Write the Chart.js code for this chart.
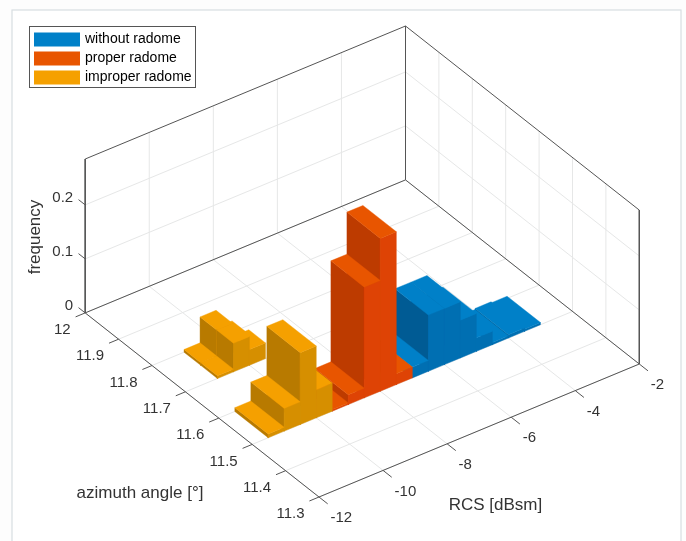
<!DOCTYPE html>
<html>
<head>
<meta charset="utf-8">
<style>
  html, body { margin: 0; padding: 0; background: #fdfdfd; }
  canvas { display: block; }
</style>
<script src="https://cdn.jsdelivr.net/npm/chart.js@4"></script>
</head>
<body>
<canvas id="myChart" width="686" height="541"></canvas>
<script>
// Data
var rcsBins = [-11.5, -11, -10.5, -10, -9.5, -9, -8.5, -8, -7.5, -7, -6.5, -6, -5.5, -5, -4.5, -4, -3.5];
var binWidth = 0.5;
var withoutRadome = [0, 0, 0, 0, 0, 0, 0, 0, 0, 0.02, 0.104, 0.104, 0.07, 0.025, 0.004, 0.006, 0.004];
var properRadome = [0, 0, 0, 0, 0.003, 0.018, 0.205, 0.283, 0.02, 0, 0, 0, 0, 0, 0, 0, 0];
var improperRow1 = [0.007, 0.042, 0.133, 0.052, 0, 0, 0, 0, 0, 0, 0, 0, 0, 0, 0, 0, 0];
var improperRow2 = [0, 0.005, 0.053, 0.021, 0, 0, 0, 0, 0, 0, 0, 0, 0, 0, 0, 0, 0];
var improperRow3 = [0, 0.005, 0.053, 0.029, 0, 0, 0, 0, 0, 0, 0, 0, 0, 0, 0, 0, 0];

var rcsTicks = [-12, -10, -8, -6, -4, -2];
var azTicks = [11.3, 11.4, 11.5, 11.6, 11.7, 11.8, 11.9, 12];
var zTicks = [0, 0.1, 0.2];
var rcsMin = -12, rcsMax = -2, azMin = 11.3, azMax = 12, zMax = 0.285;

var blue = { top: '#0080c8', front: '#006fb2', side: '#005b94' };
var red = { top: '#e85500', front: '#de4305', side: '#bd3b00' };
var orange = { top: '#f5a000', front: '#d68f00', side: '#b87a00' };

// 3D view: data coordinates -> picture coordinates (fixed oblique view)
function project(rcs, az, z) {
  var r = rcs - rcsMin, a = (az - azMin) / 0.1;
  return { x: 319 + 32.03 * r - 33.4 * a, y: 497 - 13.3 * r - 26.3 * a - 540 * z };
}

var datasets = [];

function addPath(pts, color, width) {
  datasets.push({ data: pts, showLine: true, pointRadius: 0, borderColor: color, borderWidth: width, fill: false, order: -datasets.length });
}

function addFace(pts, color) {
  datasets.push({ data: pts.concat([pts[0]]), showLine: true, pointRadius: 0, borderColor: color, borderWidth: 0.4, backgroundColor: color, fill: 'shape', order: -datasets.length });
}

// grid lines on floor and walls
var gridColor = '#e6e7e7';
rcsTicks.forEach(function(t) {
  addPath([project(t, azMin, 0), project(t, azMax, 0), project(t, azMax, zMax)], gridColor, 1);
});
azTicks.forEach(function(t) {
  addPath([project(rcsMin, t, 0), project(rcsMax, t, 0), project(rcsMax, t, zMax)], gridColor, 1);
});
zTicks.slice(1).forEach(function(t) {
  addPath([project(rcsMin, azMax, t), project(rcsMax, azMax, t), project(rcsMax, azMin, t)], gridColor, 1);
});

// box edges and axes
var axisColor = '#555555';
addPath([project(rcsMin, azMax, zMax), project(rcsMin, azMax, 0), project(rcsMax, azMax, 0), project(rcsMax, azMax, zMax), project(rcsMin, azMax, zMax)], axisColor, 1);
addPath([project(rcsMax, azMax, zMax), project(rcsMax, azMin, zMax), project(rcsMax, azMin, 0), project(rcsMax, azMax, 0)], axisColor, 1);
addPath([project(rcsMin, azMax, 0), project(rcsMin, azMin, 0), project(rcsMax, azMin, 0)], axisColor, 1);

// tick marks
rcsTicks.forEach(function(t) {
  addPath([project(t, azMin, 0), project(t, azMin - 0.026, 0)], axisColor, 1);
});
azTicks.forEach(function(t) {
  addPath([project(rcsMin, t, 0), project(rcsMin - 0.3, t, 0)], axisColor, 1);
});
zTicks.forEach(function(t) {
  addPath([project(rcsMin, azMax, t), project(rcsMin, azMax + 0.02, t)], axisColor, 1);
});

// bars, back to front
function addRow(values, az0, az1, colors) {
  return values.map(function(v, i) {
    return { v: v, r0: rcsBins[i], r1: rcsBins[i] + binWidth, az0: az0, az1: az1, colors: colors };
  }).filter(function(b) { return b.v > 0; });
}

var bars = [].concat(
  addRow(withoutRadome, 11.5, 11.6, blue),
  addRow(properRadome, 11.5, 11.6, red),
  addRow(improperRow1, 11.5, 11.6, orange),
  addRow(improperRow2, 11.75, 11.8, orange),
  addRow(improperRow3, 11.7, 11.75, orange)
);
bars.sort(function(p, q) { return (q.az0 - p.az0) || (q.r0 - p.r0); });

bars.forEach(function(b) {
  addFace([project(b.r0, b.az0, 0), project(b.r0, b.az1, 0), project(b.r0, b.az1, b.v), project(b.r0, b.az0, b.v)], b.colors.side);
  addFace([project(b.r0, b.az0, 0), project(b.r1, b.az0, 0), project(b.r1, b.az0, b.v), project(b.r0, b.az0, b.v)], b.colors.front);
  addFace([project(b.r0, b.az0, b.v), project(b.r1, b.az0, b.v), project(b.r1, b.az1, b.v), project(b.r0, b.az1, b.v)], b.colors.top);
});

// Page frame, legend frame and the 3D tick labels
var framePlugin = {
  id: 'frame',
  beforeDraw: function(chart) {
    var c = chart.ctx;
    c.save();
    c.fillStyle = '#ffffff';
    c.fillRect(12, 10, 669, 531);
    c.strokeStyle = '#d8dee2';
    c.lineWidth = 1.2;
    c.strokeRect(12, 10, 669, 540);
    c.lineWidth = 1;
    c.strokeStyle = '#555555';
    c.strokeRect(29.5, 26.5, 166, 61);
    c.restore();
    // legend sits inside the axes, top left
    chart.legend.left = 31;
    chart.legend.top = 27.5;
  },
  afterDatasetsDraw: function(chart) {
    var c = chart.ctx, sx = chart.scales.x, sy = chart.scales.y;
    function label(text, p, dx, dy, align) {
      c.textAlign = align;
      c.fillText(text, sx.getPixelForValue(p.x) + dx, sy.getPixelForValue(p.y) + dy);
    }
    c.save();
    c.fillStyle = '#333333';
    c.textBaseline = 'middle';
    c.font = '15px "Liberation Sans"';
    zTicks.forEach(function(t) { label(String(t), project(rcsMin, azMax, t), -12, -7, 'right'); });
    azTicks.forEach(function(t) { label(String(t), project(rcsMin, t, 0), -14.5, 17, 'right'); });
    rcsTicks.forEach(function(t) { label(String(t), project(t, azMin, 0), 11.5, 21, 'left'); });
    c.font = '17px "Liberation Sans"';
    c.textAlign = 'center';
    c.fillText('azimuth angle [°]', 140, 493);
    c.fillText('RCS [dBsm]', 495.5, 505);
    c.translate(35, 237);
    c.rotate(-Math.PI / 2);
    c.fillText('frequency', 0, 0);
    c.restore();
  }
};

var myChart = new Chart(document.getElementById('myChart').getContext('2d'), {
  type: 'scatter',
  data: { datasets: datasets },
  options: {
    responsive: false,
    animation: false,
    events: [],
    layout: { padding: 0 },
    elements: { line: { tension: 0 } },
    scales: {
      x: { type: 'linear', min: 0, max: 686, display: false },
      y: { type: 'linear', min: 0, max: 541, reverse: true, display: false }
    },
    plugins: {
      tooltip: { enabled: false },
      legend: {
        position: 'chartArea',
        align: 'start',
        labels: {
          boxWidth: 42,
          boxHeight: 10,
          padding: 5,
          color: '#333333',
          font: { family: '"Liberation Sans"', size: 14 },
          generateLabels: function() {
            return [['without radome', blue], ['proper radome', red], ['improper radome', orange]].map(function(item) {
              return { text: item[0], fillStyle: item[1].top, strokeStyle: item[1].top, lineWidth: 4, hidden: false };
            });
          }
        }
      }
    }
  },
  plugins: [framePlugin]
});
</script>
</body>
</html>
